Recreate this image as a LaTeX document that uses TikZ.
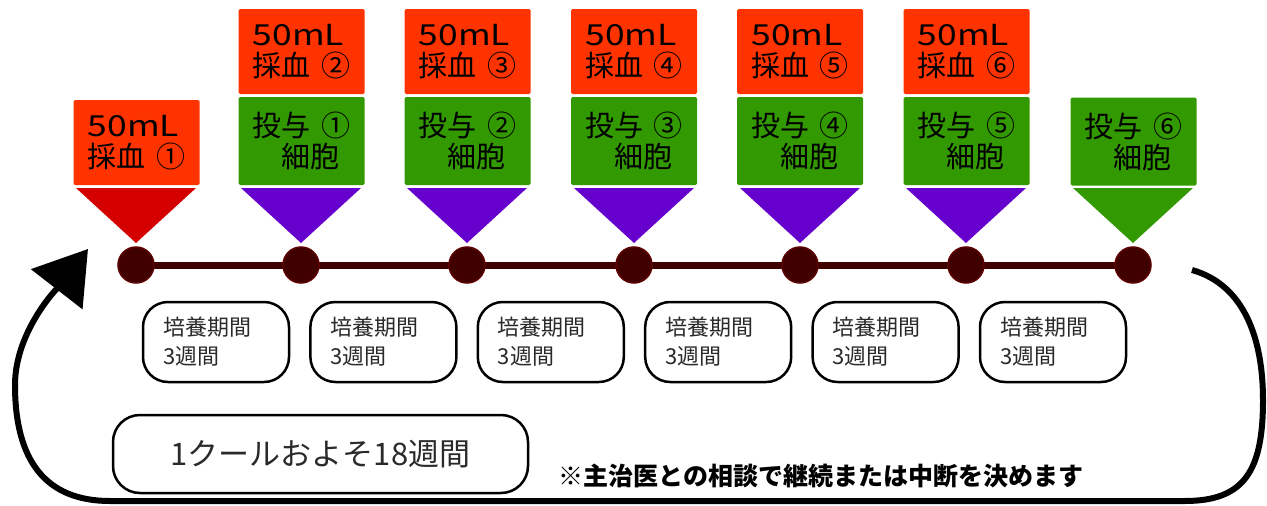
\documentclass[tikz,border=0pt]{standalone}
\usepackage{fontspec}
\usepackage{graphicx}
\setmainfont{Noto Sans CJK JP}
\usetikzlibrary{arrows.meta,backgrounds}
\definecolor{bloodc}{HTML}{FF3300}
\definecolor{redtri}{HTML}{D40000}
\definecolor{dosec}{HTML}{339900}
\definecolor{purtri}{HTML}{6600CC}
\definecolor{dotc}{HTML}{400000}
\definecolor{dotedge}{HTML}{5C0000}
\definecolor{txtgray}{HTML}{2A2A2A}
\newcommand{\mlamount}{\scalebox{1.22}[1]{50mL}}
\tikzset{
  colbox/.style={rounded corners=1.5pt, inner sep=0pt, align=left,
    font=\fontsize{29}{31}\selectfont, text=black, minimum width=126pt},
  bloodbox/.style={colbox, fill=bloodc, minimum height=85pt},
  dosebox/.style={colbox, fill=dosec, minimum height=88pt},
  dotnode/.style={circle, fill=dotc, draw=dotedge, line width=1.5pt, minimum size=36pt, inner sep=0pt},
  timeline/.style={draw=dotc, line width=7pt},
  culture/.style={draw=black, line width=2.5pt, rounded corners=25pt, fill=white,
    minimum height=80pt, text width=106pt, inner xsep=20pt, inner ysep=0pt, align=left,
    font=\fontsize{22}{29}\selectfont, text=txtgray},
  cyclebox/.style={draw=black, line width=2.5pt, rounded corners=27pt, minimum width=415pt,
    minimum height=78pt, font=\fontsize{31}{34}\selectfont, text=txtgray},
  notetext/.style={font=\fontsize{25}{28}\selectfont\bfseries, text=black, inner sep=0pt},
  looparrow/.style={draw=black, line width=6pt, -{Triangle[length=51pt,width=64pt]}}
}
\begin{document}
\begin{tikzpicture}[x=1pt,y=-1pt]
\useasboundingbox (0,0) rectangle (1267,506);
% dots
\node[dotnode] (d1) at (136,265) {};
\node[dotnode] (d2) at (301,265) {};
\node[dotnode] (d3) at (467,265) {};
\node[dotnode] (d4) at (634,265) {};
\node[dotnode] (d5) at (800,265) {};
\node[dotnode] (d6) at (966,265) {};
\node[dotnode] (d7) at (1133,265) {};
\begin{scope}[on background layer]
\draw[timeline] (d1.center) -- (d7.center);
\end{scope}
% triangles
\fill[redtri] (76,188) -- (196,188) -- (136,243) -- cycle;
\foreach \c in {301,467,634,800,966}{
  \fill[purtri] (\c-60,188) -- (\c+60,188) -- (\c,243) -- cycle;
}
\fill[dosec] (1073,188) -- (1193,188) -- (1133,243) -- cycle;
% column 1
\node[bloodbox] (b1) at (136.5,142.5) {\mlamount\\採血\hspace{0.35em}①};
% columns 2-6
\node[bloodbox] (b2) at (301.5,51.5) {\mlamount\\採血\hspace{0.35em}②};
\node[dosebox] (g1) at (301.5,141) {投与\hspace{0.35em}①\\\hspace*{1em}細胞};
\node[bloodbox] (b3) at (467.5,51.5) {\mlamount\\採血\hspace{0.35em}③};
\node[dosebox] (g2) at (467.5,141) {投与\hspace{0.35em}②\\\hspace*{1em}細胞};
\node[bloodbox] (b4) at (634,51.5) {\mlamount\\採血\hspace{0.35em}④};
\node[dosebox] (g3) at (634,141) {投与\hspace{0.35em}③\\\hspace*{1em}細胞};
\node[bloodbox] (b5) at (800,51.5) {\mlamount\\採血\hspace{0.35em}⑤};
\node[dosebox] (g4) at (800,141) {投与\hspace{0.35em}④\\\hspace*{1em}細胞};
\node[bloodbox] (b6) at (966.5,51.5) {\mlamount\\採血\hspace{0.35em}⑥};
\node[dosebox] (g5) at (966.5,141) {投与\hspace{0.35em}⑤\\\hspace*{1em}細胞};
% column 7
\node[dosebox] (g6) at (1133.5,141.5) {投与\hspace{0.35em}⑥\\\hspace*{1em}細胞};
% culture boxes
\node[culture] (c1) at (216,342) {培養期間\\3週間};
\node[culture] (c2) at (383.4,342) {培養期間\\3週間};
\node[culture] (c3) at (550.8,342) {培養期間\\3週間};
\node[culture] (c4) at (718.2,342) {培養期間\\3週間};
\node[culture] (c5) at (885.6,342) {培養期間\\3週間};
\node[culture] (c6) at (1053,342) {培養期間\\3週間};
% cycle box
\node[cyclebox] (cyc) at (320.5,454) {1クールおよそ18週間};
% note
\node[notetext] (note) at (821,476) {※主治医との相談で継続または中断を決めます};
% loop arrow
\coordinate (loopstart) at (1192,270);
\coordinate (looptip) at (88,249);
\draw[looparrow] (loopstart) .. controls (1245,285) and (1263,340) .. (1263,400)
  .. controls (1263,470) and (1245,501) .. (1185,501) -- (110,501)
  .. controls (45,501) and (15,460) .. (15,385)
  .. controls (15,330) and (60,285) .. (looptip);
\end{tikzpicture}
\end{document}
